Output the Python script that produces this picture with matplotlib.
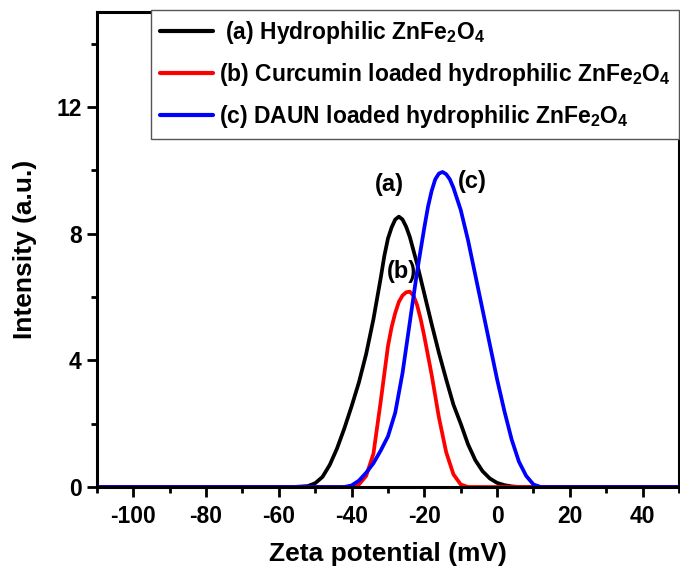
import matplotlib
matplotlib.use("Agg")
import matplotlib.pyplot as plt

plt.rcParams['font.family'] = ['Liberation Sans', 'DejaVu Sans']
plt.rcParams['font.weight'] = 'bold'
plt.rcParams['axes.unicode_minus'] = False
plt.rcParams['mathtext.fontset'] = 'custom'
plt.rcParams['mathtext.rm'] = 'Liberation Sans:bold'
plt.rcParams['mathtext.bf'] = 'Liberation Sans:bold'
plt.rcParams['mathtext.default'] = 'rm'

# zeta potential curves
x_a = [-110, -56, -52, -50, -48, -46, -44, -42, -40, -38, -36, -34, -32, -31, -30, -29, -28, -27,
       -26, -25, -24, -22, -20, -18, -16, -14, -12, -10, -8, -6, -4, -2, 0, 2, 4, 6, 50]
y_a = [0, 0, 0.03, 0.12, 0.32, 0.7, 1.22, 1.85, 2.55, 3.3, 4.2, 5.3, 6.6, 7.3, 7.85, 8.2, 8.45, 8.54,
       8.45, 8.22, 7.9, 7.05, 6.1, 5.15, 4.24, 3.4, 2.6, 2.0, 1.35, 0.85, 0.5, 0.27, 0.13, 0.06, 0.02, 0, 0]

x_b = [-110, -40, -38, -36, -34, -32, -30, -29, -28, -27, -26, -25, -24, -23, -22, -21, -20, -18, -16,
       -14, -12, -10, -8, 50]
y_b = [0, 0, 0.08, 0.35, 1.05, 2.7, 4.45, 5.05, 5.5, 5.85, 6.05, 6.15, 6.17, 6.05, 5.75, 5.3, 4.75, 3.55, 2.2,
       1.1, 0.4, 0.08, 0, 0]

x_c = [-110, -42, -40, -38, -36, -34, -32, -30, -28, -26, -24, -22, -20, -19, -18, -17, -16, -15,
       -14, -13, -12, -10, -8, -6, -4, -2, 0, 2, 4, 6, 8, 10, 12, 50]
y_c = [0, 0, 0.05, 0.2, 0.45, 0.75, 1.15, 1.6, 2.35, 3.6, 5.2, 6.8, 8.2, 8.85, 9.35, 9.72, 9.9, 9.95,
       9.88, 9.72, 9.45, 8.75, 7.8, 6.7, 5.6, 4.5, 3.4, 2.4, 1.5, 0.8, 0.35, 0.08, 0, 0]

labels = [r' (a) Hydrophilic ZnFe$_2$O$_4$',
          r'(b) Curcumin loaded hydrophilic ZnFe$_2$O$_4$',
          r'(c) DAUN loaded hydrophilic ZnFe$_2$O$_4$']
tags = ['(a)', '(b)', '(c)']
tag_x = [-29.5, -26.2, -6.9]
tag_y = [9.55, 6.8, 9.65]

fig = plt.figure(figsize=(6.8, 5.76), dpi=100)
ax = fig.add_axes([0.1426, 0.1545, 0.8559, 0.8245])

la, = ax.plot(x_a, y_a, color='black', lw=2.7, solid_capstyle='round', solid_joinstyle='round')
lb, = ax.plot(x_b, y_b, color='red', lw=2.7, solid_capstyle='round', solid_joinstyle='round')
lc, = ax.plot(x_c, y_c, color='blue', lw=2.7, solid_capstyle='round', solid_joinstyle='round')

for t, tx, ty in zip(tags, tag_x, tag_y):
    ax.text(tx, ty, t, fontsize=17, fontweight='bold', ha='center', va='center')

ax.set_xlim(-110, 50)
ax.set_ylim(0, 15)
ax.set_xticks(range(-100, 41, 20))
ax.set_xticks(range(-110, 51, 10), minor=True)
ax.set_yticks([0, 4, 8, 12])
ax.set_yticks([2, 6, 10, 14], minor=True)
ax.tick_params(which='both', direction='out', width=2, labelsize=16.5)
ax.tick_params(which='major', length=7)
ax.tick_params(which='minor', length=4.5)
ax.tick_params(axis='x', pad=6)
ax.tick_params(axis='y', pad=4)
for lab in ax.get_xticklabels() + ax.get_yticklabels():
    lab.set_fontweight('bold')
for s in ax.spines.values():
    s.set_linewidth(2.2)

ax.set_xlabel('Zeta potential (mV)', fontsize=19, fontweight='bold', labelpad=10)
ax.set_ylabel('Intensity (a.u.)', fontsize=19, fontweight='bold', labelpad=14)

leg = fig.legend([la, lb, lc], labels, loc='upper right', bbox_to_anchor=(0.9985, 0.9826),
                 fontsize=16.5, frameon=True, fancybox=False, framealpha=1, edgecolor='#555555',
                 handlelength=2.3, handletextpad=0.25, labelspacing=0.66, borderpad=0.38,
                 borderaxespad=0)
leg.get_frame().set_linewidth(1)
for t in leg.get_texts():
    t.set_fontweight('bold')
for h in leg.get_lines():
    h.set_linewidth(3)

plt.savefig('out.png', dpi=100)
